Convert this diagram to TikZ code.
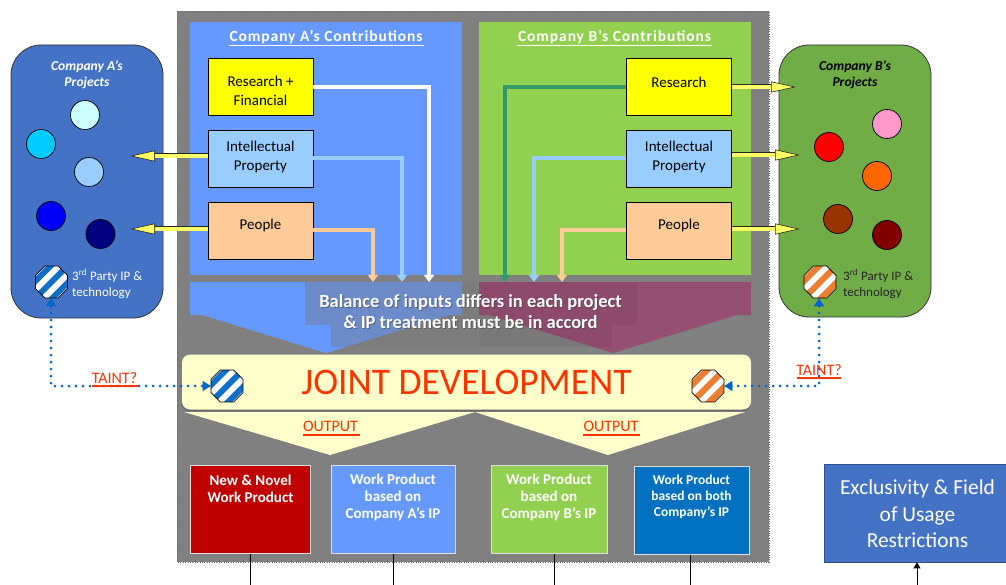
\documentclass[tikz,border=0pt]{standalone}
\usepackage{fontspec}
\setmainfont{Carlito}
\usetikzlibrary{arrows.meta,shapes.geometric,calc}
\definecolor{grayback}{HTML}{808080}
\definecolor{panelblue}{HTML}{6699FF}
\definecolor{panelgreen}{HTML}{92D050}
\definecolor{mag}{HTML}{954F72}
\definecolor{projblue}{HTML}{4472C4}
\definecolor{projgreen}{HTML}{70AD47}
\definecolor{paleyellow}{HTML}{FFFFCC}
\definecolor{redtxt}{HTML}{FF3300}
\definecolor{dotblue}{HTML}{0066CC}
\definecolor{yarrow}{HTML}{FFFF66}
\definecolor{pureyellow}{HTML}{FFFF00}
\definecolor{stripeblue}{HTML}{0F6FC6}
\definecolor{stripeorange}{HTML}{ED7D31}
\definecolor{lblue}{HTML}{99CCFF}
\definecolor{peach}{HTML}{FFCC99}
\definecolor{sea}{HTML}{339966}
\definecolor{c1}{HTML}{CCFFFF}
\definecolor{c2}{HTML}{00CCFF}
\definecolor{c3}{HTML}{0000FF}
\definecolor{c4}{HTML}{000080}
\definecolor{d1c}{HTML}{FF99CC}
\definecolor{d2c}{HTML}{FF0000}
\definecolor{d3c}{HTML}{FF6600}
\definecolor{d4c}{HTML}{993300}
\definecolor{d5c}{HTML}{800000}
\definecolor{wfour}{HTML}{0070C0}
\definecolor{wone}{HTML}{C00000}
\tikzset{
  x=1pt,y=-1pt,
  contrib/.style={draw=black,line width=.8pt,minimum width=105pt,minimum height=57pt,inner sep=0pt},
  clab/.style={text=black,font=\fontsize{15}{19}\selectfont,align=center,inner sep=0pt},
  proj/.style={rounded corners=30pt,line width=.8pt},
  dot/.style={circle,draw=black,line width=.7pt,minimum size=29pt,inner sep=0pt},
  hollow/.style={double=yarrow,double distance=3.8pt,line width=.6pt,draw=black!85,
     -{Triangle[length=25pt,width=11pt,fill=yarrow,color=black!85,line width=.6pt]}},
  flow/.style={line width=3.1pt,-{Triangle[length=7pt,width=10pt]}},
  taint/.style={line width=3pt,dotblue,line cap=round,dash pattern=on 0pt off 7pt},
  tainttip/.style={dotblue,-{Triangle[length=8pt,width=10pt]},line width=1pt},
  outbox/.style={draw=white!75!gray,line width=1pt,inner sep=0pt},
  outtext/.style={text=white,font=\bfseries\fontsize{15}{17}\selectfont,align=center,inner sep=0pt},
  redlabel/.style={text=redtxt,font=\fontsize{16}{18}\selectfont,inner sep=0pt},
  redline/.style={redtxt,line width=2.2pt},
  head/.style={text=white,font=\bfseries\fontsize{15.5}{18}\selectfont,inner sep=0pt},
  protitle/.style={font=\bfseries\itshape\fontsize{13.6}{16}\selectfont,align=center,inner sep=0pt},
  third/.style={font=\fontsize{13}{16}\selectfont,align=left,inner sep=0pt,anchor=west},
  drop/.style={line width=1pt,black},
  baltext/.style={font=\bfseries\fontsize{18.5}{21}\selectfont,align=center,inner sep=0pt},
  octa/.style={regular polygon,regular polygon sides=8,draw=black,line width=.7pt,fill=white,minimum size=34.5pt,inner sep=0pt,
     path picture={
       \foreach \d in {-8.5,0,8.5}{
         \draw[#1,line width=6pt] ($(path picture bounding box.center)+(-30,30)+(\d,\d)$) -- ($(path picture bounding box.center)+(30,-30)+(\d,\d)$);
       }}},
}
\newcommand{\uspc}[1]{\addfontfeature{LetterSpace=6}#1}
\begin{document}
\begin{tikzpicture}
\useasboundingbox (0,0) rectangle (1006,585);
% central grey field
\fill[grayback] (177,11) rectangle (769,562);
\draw[black!60,line width=.6pt,dash pattern=on .8pt off 1.6pt] (177,11) rectangle (769,562);
% contribution panels
\fill[panelblue] (190,22) rectangle (462,275);
\fill[panelgreen] (479,22) rectangle (751,275);
\node[head] at (326,37) {\uspc{Company A’s Contributions}};
\node[head] at (614.5,37) {\uspc{Company B’s Contributions}};
\draw[white,line width=1.8pt] (229,45.5) -- (424,45.5);
\draw[white,line width=1.8pt] (517,45.5) -- (712,45.5);
% balance funnels
\fill[panelblue] (190,282) -- (462,282) -- (462,315) -- (450,315) -- (326,353) -- (202,315) -- (190,315) -- cycle;
\fill[mag] (479,282) -- (751,282) -- (751,315) -- (737,315) -- (613,353) -- (489,315) -- (479,315) -- cycle;
\fill[black!53,opacity=.4] (305,282) rectangle (479,325);
\fill[black!53,opacity=.4] (331,325) rectangle (479,347);
\fill[black,opacity=.05] (479,282) rectangle (637,325);
\fill[black,opacity=.05] (479,325) rectangle (612,347);
% contribution boxes
\node[contrib,fill=pureyellow] (a1) at (260.5,86.5) {};
\node[contrib,fill=lblue] (a2) at (260.5,158.5) {};
\node[contrib,fill=peach] (a3) at (260.5,230.5) {};
\node[contrib,fill=pureyellow] (b1) at (679,86.5) {};
\node[contrib,fill=lblue] (b2) at (679,158.5) {};
\node[contrib,fill=peach] (b3) at (679,230.5) {};
\node[clab] at (260.5,90.5) {Research +\\Financial};
\node[clab] at (260.5,157.5) {Intellectual\\Property};
\node[clab] at (260.5,226) {People};
\node[clab] at (679,82) {Research};
\node[clab] at (679,157.5) {Intellectual\\Property};
\node[clab] at (679,226) {People};
% projects
\fill[projblue,draw=black!80,proj] (11,45) rectangle (163,318);
\fill[projgreen,draw=black!80,proj] (779,45) rectangle (931,317);
\node[protitle,text=white] at (87,75) {Company A’s\\Projects};
\node[protitle,text=black] at (855,75) {Company B’s\\Projects};
\node[dot,fill=c1] at (85,115) {};
\node[dot,fill=c2] at (41,144) {};
\node[dot,fill=lblue] at (89,172) {};
\node[dot,fill=c3] at (51,216) {};
\node[dot,fill=c4] at (100.5,234) {};
\node[dot,fill=d1c] at (887,124) {};
\node[dot,fill=d2c] at (829,147) {};
\node[dot,fill=d3c] at (877,176) {};
\node[dot,fill=d4c] at (838,219) {};
\node[dot,fill=d5c] at (887,235) {};
\node[octa=stripeblue] (oa) at (51.5,282) {};
\node[octa=stripeorange] (ob) at (820,282) {};
\node[third,text=white] at (72,284) {3\textsuperscript{rd} Party IP \&\\technology};
\node[third,text=black!85] at (843,284) {3\textsuperscript{rd} Party IP \&\\technology};
% hollow arrows
\coordinate (ta2) at (130,156);
\coordinate (ta3) at (130,229);
\coordinate (tb1) at (796,87);
\coordinate (tb2) at (800,155);
\coordinate (tb3) at (800,229);
\draw[hollow] (a2.west|-ta2) -- (ta2);
\draw[hollow] (a3.west|-ta3) -- (ta3);
\draw[hollow] (b1.east|-tb1) -- (tb1);
\draw[hollow] (b2.east|-tb2) -- (tb2);
\draw[hollow] (b3.east|-tb3) -- (tb3);
% flow lines
\coordinate (fa1) at (429,282);
\coordinate (fa2) at (402,282);
\coordinate (fa3) at (373,282);
\coordinate (fb1) at (505,282);
\coordinate (fb2) at (534,282);
\coordinate (fb3) at (562,282);
\coordinate (ya) at (0,87);
\coordinate (yb) at (0,158);
\coordinate (yc) at (0,230);
\draw[flow,white] (a1.east|-ya) -| (fa1);
\draw[flow,lblue] (a2.east|-yb) -| (fa2);
\draw[flow,peach] (a3.east|-yc) -| (fa3);
\draw[flow,sea] (b1.west|-ya) -| (fb1);
\draw[flow,lblue] (b2.west|-yb) -| (fb2);
\draw[flow,peach] (b3.west|-yc) -| (fb3);
% balance text
\node[baltext,text=black!75,opacity=.55] at (471.5,312.5) {Balance of inputs differs in each project\\\& IP treatment must be in accord};
\node[baltext,text=white] at (470.5,311.5) {Balance of inputs differs in each project\\\& IP treatment must be in accord};
% joint development
\fill[paleyellow] (184,412) -- (475,412) -- (330,455) -- cycle;
\fill[paleyellow] (475,412) -- (745,412) -- (608,455) -- cycle;
\fill[black!60,rounded corners=8pt] (182,355) rectangle (751,411);
\node[fill=paleyellow,rounded corners=8pt,minimum width=569pt,minimum height=55pt,inner sep=0pt,text=redtxt,font=\fontsize{37.5}{40}\selectfont] (joint) at (466.5,382) {JOINT DEVELOPMENT};
\node[octa=stripeblue] (ja) at (227,386) {};
\node[octa=stripeorange] (jb) at (708,386) {};
% taint connectors
\coordinate (la) at (51,386);
\coordinate (lb) at (819,386);
\coordinate (ls) at (51,306);
\coordinate (rs) at (819,306);
\draw[taint] (ls) -- (la) -- (ja.west);
\draw[taint] (rs) -- (lb) -- (jb.east);
\draw[tainttip] (51,308) -- (oa.south);
\draw[tainttip] (819,308) -- (lb|-ob.south);
\draw[tainttip] (203,386) -- (ja.west);
\draw[tainttip] (732,386) -- (jb.east);
\node[redlabel] at (114.5,378.5) {TAINT?};
\draw[redline] (92,386) -- (138,386);
\node[redlabel] at (819,370) {TAINT?};
\draw[redline] (797,378) -- (841,378);
\node[redlabel] at (330.5,426) {OUTPUT};
\draw[redline] (303,435) -- (360,435);
\node[redlabel] at (611,426) {OUTPUT};
\draw[redline] (583,435) -- (640,435);
% output boxes
\node[outbox,fill=wone,minimum width=120.5pt,minimum height=88.5pt] (r1) at (250.7,509.7) {};
\node[outtext] at (250.6,488.5) {New \&  Novel\\Work Product};
\node[outbox,fill=panelblue,minimum width=124pt,minimum height=88.5pt] (r2) at (393,509.7) {};
\node[outtext] at (393,497) {Work Product\\based on\\Company A’s IP};
\node[outbox,fill=panelgreen,minimum width=116pt,minimum height=88.5pt] (r3) at (549,509.7) {};
\node[outtext] at (549,497) {Work Product\\based on\\Company B’s IP};
\node[outbox,fill=wfour,minimum width=115pt,minimum height=88pt] (r4) at (691.5,510) {};
\node[outtext,font=\bfseries\fontsize{13.5}{16}\selectfont] at (691.5,496.5) {Work Product\\based on both\\Company’s  IP};
\node[fill=projblue,draw=projblue!70!black,line width=.8pt,minimum width=190pt,minimum height=98pt,inner sep=0pt] (ex) at (919,513) {};
\node[text=white,font=\fontsize{21.4}{26.5}\selectfont,align=center,inner sep=0pt] at (917.5,514) {Exclusivity \& Field\\of Usage\\Restrictions};
% leaders at bottom
\coordinate (d1) at (250.6,585);
\coordinate (d2) at (393,585);
\coordinate (d3) at (554.6,585);
\coordinate (d4) at (690.5,585);
\coordinate (d5) at (917,585);
\draw[drop] (d1|-r1.south) -- (d1);
\draw[drop] (d2|-r2.south) -- (d2);
\draw[drop] (d3|-r3.south) -- (d3);
\draw[drop] (d4|-r4.south) -- (d4);
\draw[drop,-{Triangle[length=6pt,width=7pt]}] (d5) -- (d5|-ex.south);
\end{tikzpicture}
\end{document}
